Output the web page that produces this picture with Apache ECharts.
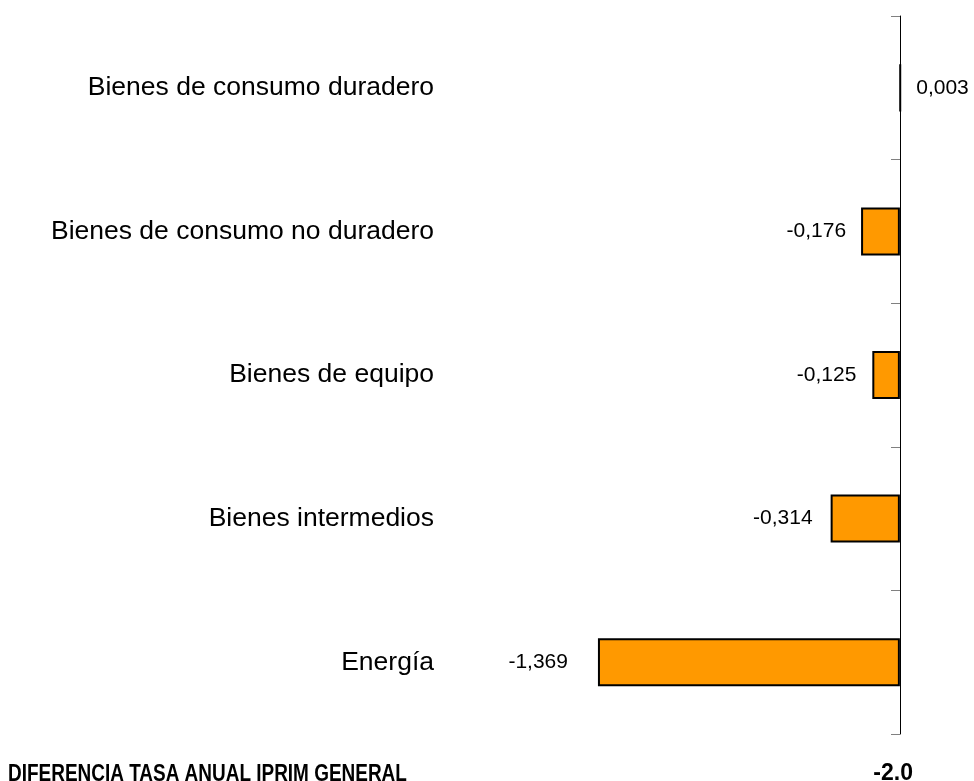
<!DOCTYPE html>
<html>
<head>
<meta charset="utf-8">
<script src="https://cdn.jsdelivr.net/npm/echarts@6/dist/echarts.min.js"></script>
<style>
  html, body { margin: 0; padding: 0; background: #fff; }
  #chart { width: 974px; height: 781px; }
</style>
</head>
<body>
<div id="chart"></div>
<script>
// categories top to bottom
const categories = [
  'Bienes de consumo duradero',
  'Bienes de consumo no duradero',
  'Bienes de equipo',
  'Bienes intermedios',
  'Energía'
]
const values = [0.003, -0.176, -0.125, -0.314, -1.369]
const labelGaps = [15, 15, 16, 18, 30]
const footerLabel = 'DIFERENCIA TASA ANUAL IPRIM GENERAL'
const footerValue = '-2.0'

const chart = echarts.init(document.getElementById('chart'))

const fmt = v => v.toFixed(3).replace('.', ',')

const option = {
  backgroundColor: '#fff',
  animation: false,
  grid: { left: 547, right: 30, top: 16, bottom: 47, containLabel: false, outerBoundsMode: 'none' },
  xAxis: {
    type: 'value',
    min: -1.6,
    max: 0.2,
    show: false
  },
  yAxis: {
    type: 'category',
    inverse: true,
    data: categories,
    position: 'left',
    offset: -353,
    axisLine: { show: true, onZero: false, lineStyle: { color: '#000', width: 1 } },
    axisTick: { show: true, interval: 0, inside: false, length: 9, lineStyle: { color: '#808080', width: 1 } },
    axisLabel: {
      margin: 466,
      color: '#000',
      fontSize: 26.5,
      fontFamily: 'Liberation Sans, Arial, sans-serif'
    },
    splitLine: { show: false }
  },
  series: [
    {
      type: 'bar',
      barWidth: 48,
      itemStyle: { color: '#FF9900', borderColor: '#000', borderWidth: 2 },
      label: {
        show: true,
        color: '#000',
        fontSize: 21,
        fontFamily: 'Liberation Sans, Arial, sans-serif',
        formatter: p => fmt(p.value)
      },
      data: values.map((v, i) => ({
        value: v,
        label: { position: v >= 0 ? 'right' : 'left', distance: labelGaps[i] }
      }))
    }
  ],
  graphic: [
    {
      type: 'text',
      x: 8,
      y: 774,
      scaleX: 0.79,
      style: {
        text: footerLabel,
        x: 0,
        y: 0,
        fill: '#000',
        font: 'bold 24px "Liberation Sans", Arial, sans-serif',
        textVerticalAlign: 'middle'
      }
    },
    {
      type: 'text',
      x: 913,
      y: 774,
      style: {
        text: footerValue,
        x: 0,
        y: 0,
        fill: '#000',
        font: 'bold 23px "Liberation Sans", Arial, sans-serif',
        textAlign: 'right',
        textVerticalAlign: 'middle'
      }
    }
  ]
}

chart.setOption(option)
</script>
</body>
</html>
